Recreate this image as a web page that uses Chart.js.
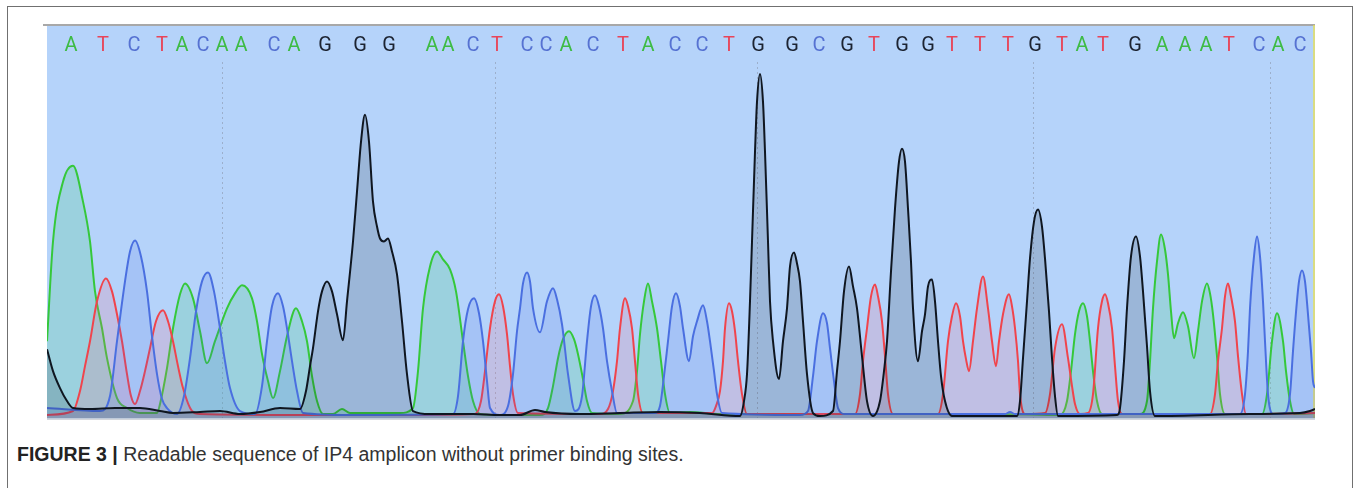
<!DOCTYPE html>
<html>
<head>
<meta charset="utf-8">
<script src="https://cdn.jsdelivr.net/npm/chart.js@4"></script>
<style>
  html, body { margin: 0; padding: 0; background: #fff; }
  body { width: 1358px; height: 488px; position: relative; overflow: hidden; }
  #frame { position: absolute; left: 7px; top: 6px; width: 1346px; height: 500px;
           border: 1.5px solid #707070; border-bottom: none; box-sizing: border-box; }
  #wrap { position: absolute; left: 0; top: 0; width: 1358px; height: 430px; }
  #caption { position: absolute; left: 17px; top: 443px; font-family: "Liberation Sans", Arial, sans-serif;
             font-size: 19.5px; color: #333; white-space: nowrap; }
  #caption b { font-weight: bold; color: #222; }
</style>
</head>
<body>
<div id="frame"></div>
<div id="wrap"><canvas id="c"></canvas></div>
<div id="caption"><b>FIGURE 3 |</b> Readable sequence of IP4 amplicon without primer binding sites.</div>
<script>
// Base calls along the top
const bases = ["A","T","C","T","A","C","A","A","C","A","G","G","G","A","A","C",
               "T","C","C","A","C","T","A","C","C","T","G","G","C","G","T","G",
               "G","T","T","T","G","T","A","T","G","A","A","A","T","C","A","C"];
const basePos = [71,103,134,162,182,203,222,241,274,294,325,360,389,432,448,473,
                 497,527,546,566,593,623,648,675,702,729,758,792,819,847,874,902,
                 928,952,980,1008,1035,1062,1082,1103,1135,1162,1185,1206,1229,1259,1278,1300];
// Dotted marker positions (every 10 bases)
const markerPos = [222, 495, 757, 1033, 1270];

// Trace points [position, intensity]
const traceA = [[47,77],[53,177],[63,237],[73,253],[83,217],[90,177],[95,127],[102,90],[107,60],[117,20],[127,10],[140,5],[157,5],
 [160,14],[167,50],[173,90],[180,124],[185,135],[193,120],[200,87],[207,55],[215,77],[227,110],[235,125],[242,133],[252,120],[257,97],
 [262,64],[268,37],[273,20],[280,47],[287,82],[296,110],[302,97],[307,77],[312,42],[317,17],[323,4],[333,4],[342,9],[350,5],[400,5],
 [413,10],[418,47],[423,110],[430,152],[437,167],[443,159],[450,149],[456,127],[463,77],[468,42],[473,17],[480,4],[500,3],[540,3],
 [548,10],[553,32],[558,60],[563,79],[569,87],[574,79],[578,64],[583,39],[587,17],[592,5],[620,4],[633,17],[637,47],[640,84],[644,117],
 [648,135],[652,117],[657,90],[661,57],[665,24],[670,5],[690,6],[720,4],[800,4],[900,4],[1000,4],[1060,3],[1067,17],[1071,47],[1075,84],
 [1079,107],[1083,115],[1087,102],[1090,77],[1093,47],[1097,17],[1102,4],[1140,4],[1147,17],[1150,57],[1153,110],[1157,157],[1161,184],
 [1165,169],[1168,144],[1171,107],[1174,80],[1178,95],[1183,106],[1188,92],[1194,60],[1198,87],[1202,117],[1207,135],[1210,125],
 [1213,104],[1217,62],[1220,24],[1225,4],[1262,4],[1267,24],[1272,77],[1277,105],[1283,77],[1286,47],[1290,17],[1294,4],[1315,5]];

const traceC = [[47,10],[100,7],[110,22],[117,77],[125,137],[130,167],[135,178],[141,162],[147,127],[152,82],[157,44],[162,19],[167,10],
 [177,4],[184,22],[190,60],[196,107],[202,137],[208,146],[214,127],[220,90],[225,57],[230,30],[240,7],[255,4],[262,32],[267,77],[272,112],
 [278,125],[283,112],[287,90],[292,57],[297,27],[303,5],[350,3],[453,4],[458,22],[463,77],[468,109],[474,120],[479,105],[483,77],[487,37],
 [490,10],[500,3],[508,12],[513,44],[517,87],[520,110],[523,135],[527,146],[530,137],[533,110],[540,86],[547,117],[553,130],[557,119],
 [562,94],[568,44],[575,7],[582,22],[587,77],[591,112],[595,123],[599,112],[603,90],[607,57],[612,27],[617,5],[655,5],[660,12],[664,42],
 [668,77],[672,112],[676,125],[680,112],[683,90],[689,57],[693,82],[697,97],[703,113],[707,97],[710,77],[714,47],[717,24],[722,5],
 [800,3],[808,7],[813,42],[817,77],[823,105],[827,95],[830,70],[834,37],[838,10],[845,4],[1005,4],[1010,6],[1015,4],[1240,4],[1245,24],
 [1248,67],[1250,110],[1254,162],[1257,182],[1260,162],[1263,117],[1265,77],[1268,24],[1273,4],[1285,5],[1290,24],[1293,67],[1295,94],
 [1299,137],[1302,148],[1305,137],[1308,104],[1311,67],[1313,37],[1315,30]];

const traceG = [[47,69],[53,47],[60,30],[67,17],[73,10],[90,9],[115,10],[140,10],[160,7],[173,5],[200,6],[220,7],[240,4],[260,6],[280,10],
 [300,9],[306,27],[310,52],[313,70],[318,107],[322,127],[327,137],[332,127],[337,104],[343,78],[347,117],[353,177],[357,227],[361,277],
 [365,304],[369,277],[373,217],[377,192],[380,180],[384,177],[388,180],[392,167],[397,144],[402,97],[407,44],[413,7],[430,4],[473,4],
 [500,3],[520,3],[535,8],[545,6],[580,4],[620,5],[660,6],[700,5],[740,2],[744,17],[747,44],[750,117],[752,177],[755,267],[757,317],
 [760,345],[763,317],[765,267],[768,177],[770,117],[773,77],[779,39],[783,77],[787,110],[790,152],[794,166],[797,155],[800,137],[803,97],
 [807,44],[813,5],[820,2],[833,7],[837,47],[840,77],[844,127],[849,152],[853,132],[857,110],[862,62],[867,17],[873,2],[880,17],[884,47],
 [887,77],[891,147],[895,210],[899,257],[902,270],[905,257],[908,210],[911,157],[913,110],[918,57],[922,87],[925,104],[928,132],[932,139],
 [935,117],[938,77],[941,42],[945,17],[952,2],[1017,2],[1020,17],[1023,60],[1027,117],[1030,160],[1034,197],[1038,209],[1042,192],
 [1045,160],[1049,107],[1052,60],[1055,22],[1058,2],[1117,3],[1120,10],[1124,57],[1127,110],[1131,162],[1136,182],[1140,162],[1143,127],
 [1147,72],[1150,27],[1155,2],[1250,4],[1300,5],[1310,7],[1315,9]];

const traceT = [[47,3],[73,7],[80,27],[85,52],[90,77],[97,117],[106,140],[112,127],[117,104],[122,77],[127,44],[131,22],[135,14],[140,27],
 [145,47],[150,70],[156,97],[163,108],[168,97],[173,77],[178,52],[183,30],[192,7],[200,4],[300,3],[400,3],[475,4],[481,17],[485,47],
 [490,90],[495,117],[499,124],[503,112],[507,84],[510,52],[513,24],[518,5],[600,4],[608,9],[613,27],[617,57],[620,90],[625,120],[628,112],
 [632,90],[635,57],[638,24],[643,5],[712,5],[716,12],[720,27],[723,57],[725,90],[729,115],[732,107],[735,87],[738,57],[742,24],[747,4],
 [855,4],[860,24],[863,57],[867,90],[871,122],[875,134],[878,122],[882,97],[885,62],[888,24],[893,4],[938,4],[943,24],[948,77],[952,102],
 [956,115],[960,102],[963,77],[966,59],[969,47],[973,77],[977,110],[983,142],[988,110],[992,77],[996,52],[999,77],[1003,104],[1009,124],
 [1012,112],[1015,90],[1018,57],[1020,24],[1025,4],[1045,5],[1050,24],[1055,70],[1062,94],[1068,60],[1072,32],[1075,14],[1080,4],
 [1088,5],[1093,24],[1098,90],[1102,117],[1105,124],[1108,115],[1112,90],[1115,52],[1118,17],[1122,4],[1210,4],[1215,24],[1218,57],
 [1222,90],[1225,122],[1228,135],[1231,122],[1235,97],[1238,62],[1242,24],[1246,4],[1315,5]];

const baseColors = { A: "#3dbb44", T: "#e8455a", C: "#5672d2", G: "#1c2331" };
const lineColors = { A: "#35c83a", T: "#f0444c", C: "#4a6fe0", G: "#0f1620" };
const fillColors = { A: "rgba(90,205,150,0.28)", T: "rgba(245,100,130,0.18)",
                     C: "rgba(70,100,225,0.14)", G: "rgba(20,30,45,0.16)" };

function toPoints(arr) { return arr.map(p => ({ x: p[0], y: p[1] })); }
function ds(label, arr) {
  return {
    label: label, data: toPoints(arr), borderColor: lineColors[label], backgroundColor: fillColors[label],
    borderWidth: 2, pointRadius: 0, fill: 'origin', cubicInterpolationMode: 'monotone'
  };
}

const bgPlugin = {
  id: 'bg',
  beforeDraw(chart) {
    const { ctx, chartArea } = chart;
    const top = 25;
    ctx.save();
    ctx.fillStyle = '#b5d3fa';
    ctx.fillRect(chartArea.left, top, chartArea.right - chartArea.left, chartArea.bottom - top + 1);
    ctx.strokeStyle = '#a8a8a8'; ctx.lineWidth = 2;
    ctx.beginPath(); ctx.moveTo(chartArea.left - 4, top); ctx.lineTo(chartArea.right, top); ctx.stroke();
    ctx.strokeStyle = '#e6df5a'; ctx.lineWidth = 1.5;
    ctx.beginPath(); ctx.moveTo(chartArea.right - 1, top); ctx.lineTo(chartArea.right - 1, chartArea.bottom); ctx.stroke();
    ctx.strokeStyle = '#c4c8d0'; ctx.lineWidth = 1.5;
    ctx.beginPath(); ctx.moveTo(chartArea.left, chartArea.bottom + 1); ctx.lineTo(chartArea.right, chartArea.bottom + 1); ctx.stroke();
    ctx.restore();
  }
};

new Chart(document.getElementById('c'), {
  type: 'line',
  data: { datasets: [ds('G', traceG), ds('C', traceC), ds('T', traceT), ds('A', traceA)] },
  options: {
    responsive: true, maintainAspectRatio: false, animation: false, devicePixelRatio: 1,
    layout: { padding: { left: 47, right: 43, top: 30, bottom: 12 } },
    plugins: { legend: { display: false }, tooltip: { enabled: false } },
    scales: {
      x: {
        type: 'linear', position: 'bottom', min: 47, max: 1315,
        afterBuildTicks: (s) => { s.ticks = markerPos.map(v => ({ value: v })); },
        ticks: { display: false },
        grid: { display: true, drawTicks: false, color: 'rgba(135,145,165,0.55)', lineWidth: 1 },
        border: { display: false, dash: [2, 3] }
      },
      xTop: {
        type: 'linear', position: 'top', min: 47, max: 1315,
        afterBuildTicks: (s) => { s.ticks = basePos.map(v => ({ value: v })); },
        ticks: {
          autoSkip: false, maxRotation: 0, minRotation: 0, padding: 4,
          font: { family: 'Roboto, "Open Sans", sans-serif', size: 20 },
          color: (c) => baseColors[bases[c.index]],
          callback: (v, i) => bases[i]
        },
        grid: { display: false, drawTicks: false },
        border: { display: false }
      },
      y: { display: false, min: 0, max: 357 }
    }
  },
  plugins: [bgPlugin]
});
</script>
</body>
</html>
